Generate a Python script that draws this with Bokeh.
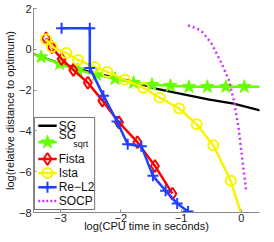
from bokeh.plotting import figure
from bokeh.models import FixedTicker, CustomJSTickFormatter, Range1d
from bokeh.core.properties import value
from bokeh.embed import file_html
from bokeh.resources import INLINE

# ---------------- data (log10 CPU time, log10 relative distance) ----------------
sg_x = [-3.50, -3.03, -2.71, -2.39, -2.06, -1.74, -1.42, -0.94, -0.53, -0.13, 0.31]
sg_y = [-0.18, -0.67, -0.96, -1.20, -1.40, -1.64, -1.93, -2.22, -2.47, -2.66, -3.00]

sgsqrt_x = [-3.50, -3.323, -3.016, -2.710, -2.403, -2.097, -1.790, -1.484, -1.177,
            -0.871, -0.565, -0.258, 0.048, 0.355]
sgsqrt_y = [-0.184, -0.379, -0.718, -1.010, -1.252, -1.447, -1.641, -1.738, -1.786,
            -1.835, -1.835, -1.835, -1.835, -1.835]

fista_x = [-3.242, -3.145, -2.984, -2.790, -2.548, -2.306, -2.032, -1.726, -1.435, -1.145]
fista_y = [0.544, 0.107, -0.476, -1.010, -1.641, -2.515, -3.583, -4.553, -5.718, -7.078]

ista_x = [-3.242, -3.145, -2.903, -2.710, -2.435, -2.226, -1.935, -1.629, -1.355,
          -1.032, -0.742, -0.468, -0.177, -0.016]
ista_y = [0.495, 0.107, -0.184, -0.524, -0.864, -1.107, -1.495, -1.883, -2.369,
          -2.903, -3.680, -4.699, -6.447, -7.951]

rel2_x = [-2.984, -2.516, -2.516, -2.290, -2.065, -1.887, -1.661, -1.468, -1.258, -1.065, -0.887]
rel2_y = [1.029, 1.029, -0.913, -2.272, -3.534, -4.650, -4.748, -6.204, -6.932, -7.563, -7.951]

socp_x = [-0.887, -0.742, -0.645, -0.500, -0.339, -0.210, -0.129, -0.048, 0.000, 0.081]
socp_y = [1.175, 1.029, 0.835, 0.301, -0.621, -1.495, -2.466, -3.825, -5.039, -6.981]

x_ticks = [-3, -2, -1, 0]
y_ticks = [-8, -6, -4, -2, 0, 2]
series_names = ["SG", "SG", "Fista", "Ista", "Re\u2212L2", "SOCP"]
x_title = "log(CPU time in seconds)"
y_title = "log(relative distance to optimum)"

# ---------------- styles ----------------
FONT = "Liberation Sans"
C_SG = "#000000"
C_SQ = "#66ff00"
C_FI = "#ff0000"
C_IS = "#f5f500"
C_RE = "#2040ff"
C_SO = "#cc33ff"
AXC = "#8a8a8a"

p = figure(width=266, height=234, output_backend="svg", toolbar_location=None,
           x_range=Range1d(-3.45, 0.30), y_range=Range1d(-8, 2),
           min_border_left=26, min_border_right=7, min_border_top=8, min_border_bottom=20)
p.grid.visible = False
p.outline_line_color = None
p.background_fill_color = "white"
p.border_fill_color = "white"

fmt = CustomJSTickFormatter(code="return (tick < 0 ? '\\u2212' : '') + Math.abs(tick);")
p.xaxis.ticker = FixedTicker(ticks=x_ticks)
p.yaxis.ticker = FixedTicker(ticks=y_ticks)
for ax in (p.xaxis[0], p.yaxis[0]):
    ax.formatter = fmt
    ax.axis_line_color = AXC
    ax.axis_line_width = 1
    ax.major_tick_line_color = AXC
    ax.major_tick_in = 3
    ax.major_tick_out = 0
    ax.minor_tick_line_color = None
    ax.major_label_text_font = FONT
    ax.major_label_text_font_size = "11px"
    ax.major_label_text_color = "#222222"
    ax.major_label_standoff = 2
    ax.axis_label_text_font = FONT
    ax.axis_label_text_font_size = "11px"
    ax.axis_label_text_font_style = "normal"
    ax.axis_label_text_color = "#111111"
    ax.axis_label_standoff = 0
p.xaxis.major_label_standoff = 1
p.xaxis.axis_label_standoff = -5
p.xaxis.axis_label = x_title
p.yaxis.axis_label = y_title

# ---------------- series ----------------
p.line(sg_x, sg_y, line_color=C_SG, line_width=2.2)

p.line(sgsqrt_x, sgsqrt_y, line_color=C_SQ, line_width=2.5)
p.scatter(sgsqrt_x[1:-1], sgsqrt_y[1:-1], marker="star", size=14,
          fill_color=C_SQ, line_color=C_SQ, line_width=1)

p.line(fista_x, fista_y, line_color=C_FI, line_width=2.5)
p.scatter(fista_x, fista_y, marker="diamond", size=12, fill_color=None,
          line_color=C_FI, line_width=2)

p.line(ista_x, ista_y, line_color=C_IS, line_width=2.5)
p.scatter(ista_x[:-1], ista_y[:-1], marker="circle", size=10, fill_color=None,
          line_color=C_IS, line_width=2)

p.line(rel2_x, rel2_y, line_color=C_RE, line_width=2.5)
p.scatter(rel2_x, rel2_y, marker="cross", size=11, line_color=C_RE, line_width=2)

p.line(socp_x, socp_y, line_color=C_SO, line_width=2.5, line_dash="2 3")

# ---------------- legend (drawn by hand for the subscript) ----------------
LX0, LX1 = -3.435, -2.435
LY0, LY1 = -7.854, -3.340
p.quad(left=[LX0], right=[LX1], bottom=[LY0], top=[LY1],
       fill_color="white", line_color="#707070", line_width=1)

sx0, sx1, smx, tx = -3.371, -3.065, -3.218, -3.032
ey = [-3.752, -4.553, -5.379, -6.058, -6.762, -7.442]
cols = [C_SG, C_SQ, C_FI, C_IS, C_RE, C_SO]
for i, c in enumerate(cols):
    dash = "2 2" if i == 5 else "solid"
    p.line([sx0, sx1], [ey[i], ey[i]], line_color=c,
           line_width=2.5, line_dash=dash)
p.scatter([smx], [ey[1]], marker="star", size=14, fill_color=C_SQ, line_color=C_SQ)
p.scatter([smx], [ey[2]], marker="diamond", size=12, fill_color=None, line_color=C_FI, line_width=2)
p.scatter([smx], [ey[3]], marker="circle", size=10, fill_color=None, line_color=C_IS, line_width=2)
p.scatter([smx], [ey[4]], marker="cross", size=11, line_color=C_RE, line_width=2)

text_y = [ey[0], -4.214, ey[2], ey[3], ey[4], ey[5]]
p.text([tx] * 6, text_y, text=series_names, text_font=value(FONT),
       text_font_size="12px", text_baseline="middle", text_align="left",
       text_color="#111111")
p.text([-2.790], [-4.650], text=["sqrt"], text_font=value(FONT),
       text_font_size="9px", text_baseline="middle", text_align="left",
       text_color="#111111")

open("out.html", "w").write(file_html(p, INLINE))
